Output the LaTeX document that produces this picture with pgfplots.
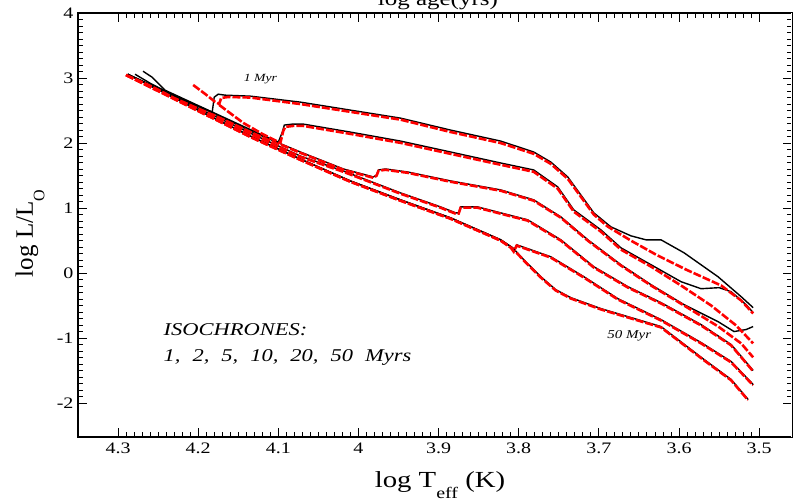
\documentclass[border=0pt]{standalone}
\usepackage{pgfplots}
\pgfplotsset{compat=1.18}
\usepackage{fontspec}
\setmainfont[FakeStretch=1.25]{Liberation Serif}
\newfontfamily\uprightserif{Liberation Serif}

\tikzset{
  blk/.style={black, line width=1.4pt, yshift=0.8pt},
  rdd/.style={red, line width=2.6pt, dash pattern=on 8pt off 2pt},
}

\begin{document}
\begin{tikzpicture}
\begin{axis}[
  scale only axis,
  width=714pt, height=424pt,
  x dir=reverse,
  xmin=3.459, xmax=4.35,
  ymin=-2.52, ymax=4.0,
  xtick={3.5,3.6,3.7,3.8,3.9,4.0,4.1,4.2,4.3},
  xticklabels={3.5,3.6,3.7,3.8,3.9,4,4.1,4.2,4.3},
  ytick={-2,-1,0,1,2,3,4},
  yticklabels={-2,-1,0,1,2,3,4},
  minor x tick num=9,
  minor y tick num=9,
  tick align=inside,
  major tick length=9pt,
  minor tick length=5pt,
  every tick/.style={black, line width=0.9pt},
  axis line style={line width=1.2pt},
  /pgf/number format/assume math mode=true,
  xticklabel style={font=\fontsize{16}{18}\selectfont, yshift=-2pt},
  yticklabel style={font=\fontsize{16}{18}\selectfont, xshift=-1pt},
  xlabel={log T\raisebox{-1.1ex}{\fontsize{16}{16}\selectfont eff} (K)},
  ylabel={\uprightserif log L/L\raisebox{-1.0ex}{\fontsize{16}{16}\selectfont O}},
  every axis x label/.style={at={(rel axis cs:0.507,0)}, anchor=base, yshift=-50pt, font=\fontsize{23}{25}\selectfont},
  every axis y label/.style={at={([xshift=-45pt]rel axis cs:0,0.48)}, anchor=base, rotate=90, font=\fontsize{25}{27}\selectfont},
]

% ---- 50 Myr
\addplot[blk] coordinates {(4.2880,3.046)(4.1975,2.479)(4.1350,2.095)(4.0725,1.742)(4.0100,1.405)(3.9475,1.114)(3.8850,0.837)(3.8225,0.500)(3.8075,0.377)(3.7913,0.163)(3.7725,-0.067)(3.7538,-0.267)(3.7350,-0.390)(3.6975,-0.558)(3.6725,-0.650)(3.6225,-0.834)(3.5688,-1.340)(3.5350,-1.647)(3.5138,-1.954)};
\addplot[rdd] coordinates {(4.2900,3.046)(4.1975,2.479)(4.1350,2.095)(4.0725,1.742)(4.0100,1.405)(3.9475,1.114)(3.8850,0.837)(3.8225,0.500)(3.8075,0.377)(3.7913,0.163)(3.7725,-0.067)(3.7538,-0.267)(3.7350,-0.390)(3.6975,-0.558)(3.6725,-0.650)(3.6225,-0.834)(3.5688,-1.340)(3.5350,-1.647)(3.5138,-1.954)};

% ---- 20 Myr
\addplot[blk] coordinates {(4.2880,3.046)(4.1975,2.479)(4.1350,2.095)(4.0725,1.742)(4.0100,1.405)(3.9475,1.114)(3.8850,0.837)(3.8225,0.500)(3.8100,0.393)(3.8063,0.331)(3.8025,0.423)(3.7600,0.239)(3.7188,-0.067)(3.6763,-0.405)(3.6225,-0.727)(3.5725,-1.080)(3.5350,-1.371)(3.5075,-1.724)};
\addplot[rdd] coordinates {(4.2900,3.046)(4.1975,2.479)(4.1350,2.095)(4.0725,1.742)(4.0100,1.405)(3.9475,1.114)(3.8850,0.837)(3.8225,0.500)(3.8100,0.393)(3.8063,0.331)(3.8025,0.423)(3.7600,0.239)(3.7188,-0.067)(3.6763,-0.405)(3.6225,-0.727)(3.5725,-1.080)(3.5350,-1.371)(3.5075,-1.724)};

% ---- 10 Myr
\addplot[blk] coordinates {(4.2880,3.046)(4.1975,2.509)(4.1350,2.141)(4.0725,1.788)(4.0188,1.558)(3.9475,1.221)(3.8975,1.006)(3.8788,0.914)(3.8750,0.914)(3.8725,1.006)(3.8513,1.006)(3.8225,0.914)(3.7888,0.807)(3.7475,0.500)(3.7063,0.086)(3.6638,-0.221)(3.6225,-0.466)(3.5725,-0.804)(3.5350,-1.110)(3.5075,-1.509)};
\addplot[rdd] coordinates {(4.2900,3.046)(4.1975,2.509)(4.1350,2.141)(4.0725,1.788)(4.0188,1.558)(3.9475,1.221)(3.8975,1.006)(3.8788,0.914)(3.8750,0.914)(3.8725,1.006)(3.8513,1.006)(3.8225,0.914)(3.7888,0.807)(3.7475,0.500)(3.7063,0.086)(3.6638,-0.221)(3.6225,-0.466)(3.5725,-0.804)(3.5350,-1.110)(3.5075,-1.509)};

% ---- 5 Myr
\addplot[blk] coordinates {(4.2880,3.046)(4.1975,2.540)(4.1350,2.172)(4.0725,1.850)(4.0188,1.589)(3.9813,1.466)(3.9775,1.497)(3.9750,1.574)(3.9663,1.589)(3.9388,1.543)(3.8850,1.405)(3.8225,1.267)(3.7813,1.114)(3.7475,0.853)(3.7138,0.500)(3.6725,0.117)(3.6350,-0.190)(3.5938,-0.497)(3.5513,-0.758)(3.5313,-0.911)(3.5163,-0.880)(3.5075,-0.834)};
\addplot[rdd] coordinates {(4.2900,3.046)(4.1975,2.540)(4.1350,2.172)(4.0725,1.850)(4.0188,1.589)(3.9813,1.466)(3.9775,1.497)(3.9750,1.574)(3.9663,1.589)(3.9388,1.543)(3.8850,1.405)(3.8225,1.267)(3.7813,1.114)(3.7475,0.853)(3.7138,0.500)(3.6725,0.117)(3.6350,-0.190)(3.5938,-0.497)(3.5513,-0.819)(3.5225,-1.080)(3.5075,-1.295)};

% ---- 2 Myr
\addplot[blk] coordinates {(4.2688,3.092)(4.2575,3.000)(4.2413,2.800)(4.1975,2.550)(4.1350,2.195)(4.1000,2.003)(4.0950,2.156)(4.0925,2.264)(4.0825,2.279)(4.0688,2.279)(4.0100,2.156)(3.9475,2.018)(3.8850,1.850)(3.8225,1.681)(3.7813,1.574)(3.7513,1.313)(3.7313,0.960)(3.6975,0.653)(3.6725,0.377)(3.6350,0.117)(3.5975,-0.144)(3.5725,-0.252)(3.5500,-0.236)(3.5350,-0.298)(3.5163,-0.497)(3.5075,-0.620)};
\addplot[rdd] coordinates {(4.1738,2.586)(4.1438,2.310)(4.1200,2.141)(4.0975,2.003)(4.0938,2.187)(4.0913,2.249)(4.0813,2.264)(4.0688,2.264)(4.0100,2.141)(3.9475,2.003)(3.8850,1.834)(3.8225,1.666)(3.7813,1.558)(3.7513,1.298)(3.7313,0.945)(3.6975,0.638)(3.6725,0.362)(3.6350,0.101)(3.5975,-0.190)(3.5600,-0.497)(3.5288,-0.804)(3.5075,-1.080)};

% ---- 1 Myr
\addplot[blk] coordinates {(4.2788,3.046)(4.2600,2.908)(4.2288,2.709)(4.1975,2.540)(4.1825,2.463)(4.1800,2.693)(4.1750,2.739)(4.1663,2.724)(4.1350,2.709)(4.0725,2.617)(4.0100,2.494)(3.9475,2.371)(3.8850,2.187)(3.8225,2.018)(3.7813,1.850)(3.7600,1.696)(3.7388,1.466)(3.7225,1.190)(3.7063,0.914)(3.6850,0.699)(3.6600,0.561)(3.6413,0.500)(3.6225,0.500)(3.5938,0.301)(3.5513,-0.068)(3.5225,-0.374)(3.5075,-0.543)};
\addplot[rdd] coordinates {(4.2063,2.893)(4.1913,2.755)(4.1788,2.632)(4.1738,2.601)(4.1713,2.693)(4.1625,2.709)(4.1350,2.700)(4.0725,2.600)(4.0100,2.480)(3.9475,2.360)(3.8850,2.170)(3.8225,2.000)(3.7813,1.835)(3.7600,1.680)(3.7388,1.450)(3.7225,1.175)(3.7063,0.900)(3.6888,0.715)(3.6600,0.500)(3.6288,0.285)(3.5913,0.055)(3.5475,-0.190)(3.5225,-0.420)(3.5075,-0.620)};

% ---- annotations
\node[anchor=base west, font=\fontsize{11}{12}\selectfont\itshape] at (axis cs:4.1475,2.954) {1 Myr};
\node[anchor=base west, font=\fontsize{12}{13}\selectfont\itshape] at (axis cs:3.6938,-1.003) {50 Myr};
\node[anchor=base west, font=\fontsize{18}{20}\selectfont\itshape] at (axis cs:4.2475,-0.957) {ISOCHRONES:};
\node[anchor=base west, font=\fontsize{18}{20}\selectfont\itshape] at (axis cs:4.2475,-1.356) {\spaceskip=12pt 1, 2, 5, 10, 20, 50 Myrs};

% thin dotted right-hand frame line
\draw[white, line width=1.3pt] (rel axis cs:1,0) -- (rel axis cs:1,1);
\draw[black!75, line width=0.8pt, dash pattern=on 1.2pt off 2pt] (rel axis cs:1,0) -- (rel axis cs:1,1);

\coordinate (bl) at (rel axis cs:0,0);
\coordinate (tr) at (rel axis cs:1,1);
\coordinate (tc) at (rel axis cs:0.504,1);
\end{axis}
% title above the frame
\node[anchor=base, font=\fontsize{20}{22}\selectfont] at ([yshift=7pt]tc) {log age(yrs)};
\pgfresetboundingbox
\path[use as bounding box] ([shift={(-78pt,-62pt)}]bl) rectangle ([shift={(4pt,13pt)}]tr);
\end{tikzpicture}
\end{document}
